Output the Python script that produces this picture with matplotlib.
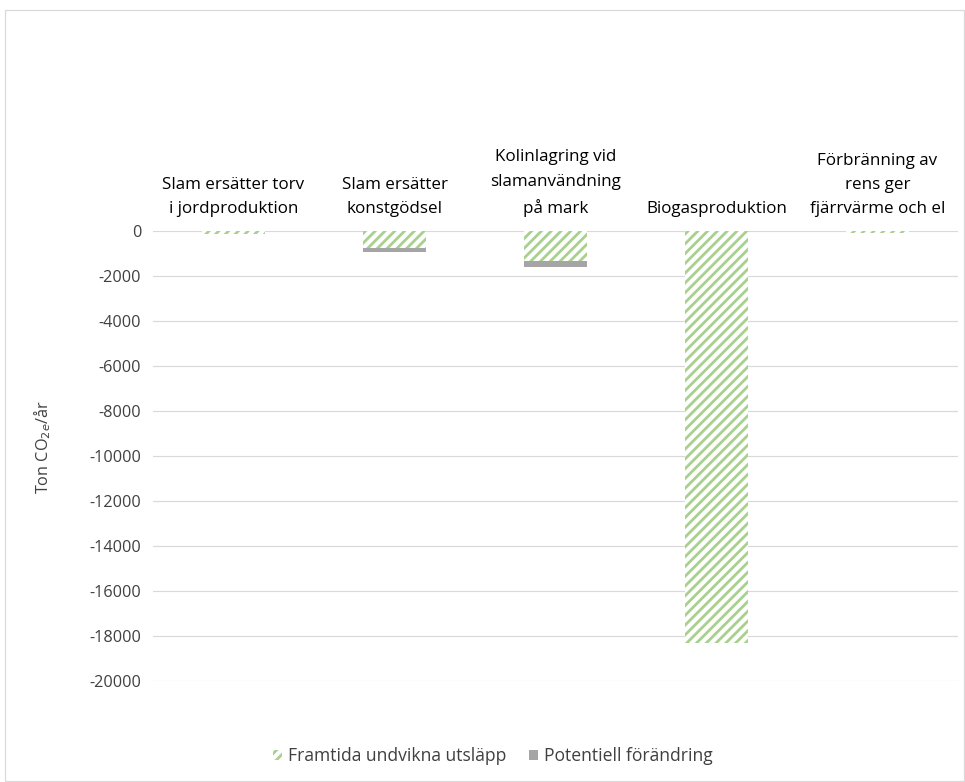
import matplotlib
matplotlib.use("Agg")
import matplotlib.pyplot as plt
from matplotlib.patches import Rectangle
from matplotlib.ticker import FixedLocator

categories = [
    "Slam ersätter torv\ni jordproduktion",
    "Slam ersätter\nkonstgödsel",
    "Kolinlagring vid\nslamanvändning\npå mark",
    "Biogasproduktion",
    "Förbränning av\nrens ger\nfjärrvärme och el",
]
avoided = [-150, -750, -1330, -18300, -100]       # Framtida undvikna utsläpp
potential = [0, -200, -270, 0, 0]                 # Potentiell förändring
yticks = [0, -2000, -4000, -6000, -8000, -10000, -12000, -14000, -16000, -18000, -20000]

DPI = 88
W, H = 965, 782


def pt(px):
    return px * 72 / DPI


plt.rcParams["font.family"] = ["Open Sans", "DejaVu Sans"]
plt.rcParams["hatch.linewidth"] = pt(2.8)
plt.rcParams["hatch.color"] = "#a9d18e"

fig = plt.figure(figsize=(W / DPI, H / DPI), dpi=DPI)
ax = fig.add_axes([153 / W, 1 - 681 / H, (958 - 153) / W, (681 - 231) / H])

text_col = "#404040"
green = "#a9d18e"
grey = "#a5a5a5"
x = list(range(len(categories)))
width = 0.39

ax.bar(x, avoided, width, facecolor="white", edgecolor=green, hatch="///",
       linewidth=0, label="Framtida undvikna utsläpp", zorder=3)
ax.bar(x, potential, width, bottom=avoided, color=grey, linewidth=0,
       label="Potentiell förändring", zorder=3)

ax.set_xlim(-0.5, len(categories) - 0.5)
ax.set_ylim(-20000, 0)
ax.yaxis.set_major_locator(FixedLocator(yticks))
ax.set_yticklabels([str(v) for v in yticks])
ax.grid(axis="y", color="#d9d9d9", linewidth=pt(1.2), zorder=0)
for s in ax.spines.values():
    s.set_visible(False)

ax.set_xticks(x)
ax.set_xticklabels(categories, linespacing=1.68)
ax.xaxis.tick_top()
ax.tick_params(axis="x", length=0, pad=pt(14), labelsize=pt(17), colors="black")
ax.tick_params(axis="y", length=0, pad=pt(12), labelsize=pt(16.3), colors=text_col)

ax.set_ylabel("Ton CO$_{2e}$/år", fontsize=pt(16.3), color=text_col)
ax.yaxis.set_label_coords((53 - 153) / (958 - 153), 0.52)

handles = [
    Rectangle((0, 0), 1, 1, facecolor="white", edgecolor=green, hatch="///", linewidth=0),
    Rectangle((0, 0), 1, 1, facecolor=grey, linewidth=0),
]
fig.legend(handles, ["Framtida undvikna utsläpp", "Potentiell förändring"],
           loc="center", bbox_to_anchor=(493 / W, 1 - 756 / H), ncol=2,
           frameon=False, fontsize=pt(17.5), handlelength=0.5, handleheight=0.5,
           handletextpad=0.35, columnspacing=1.3, labelcolor=text_col)

fig.patches.append(Rectangle((5 / W, 1 - 781 / H), (964 - 5) / W, (781 - 10) / H,
                             transform=fig.transFigure, fill=False,
                             edgecolor="#d9d9d9", linewidth=pt(1.2)))

fig.savefig("out.png", dpi=DPI, facecolor="white")
